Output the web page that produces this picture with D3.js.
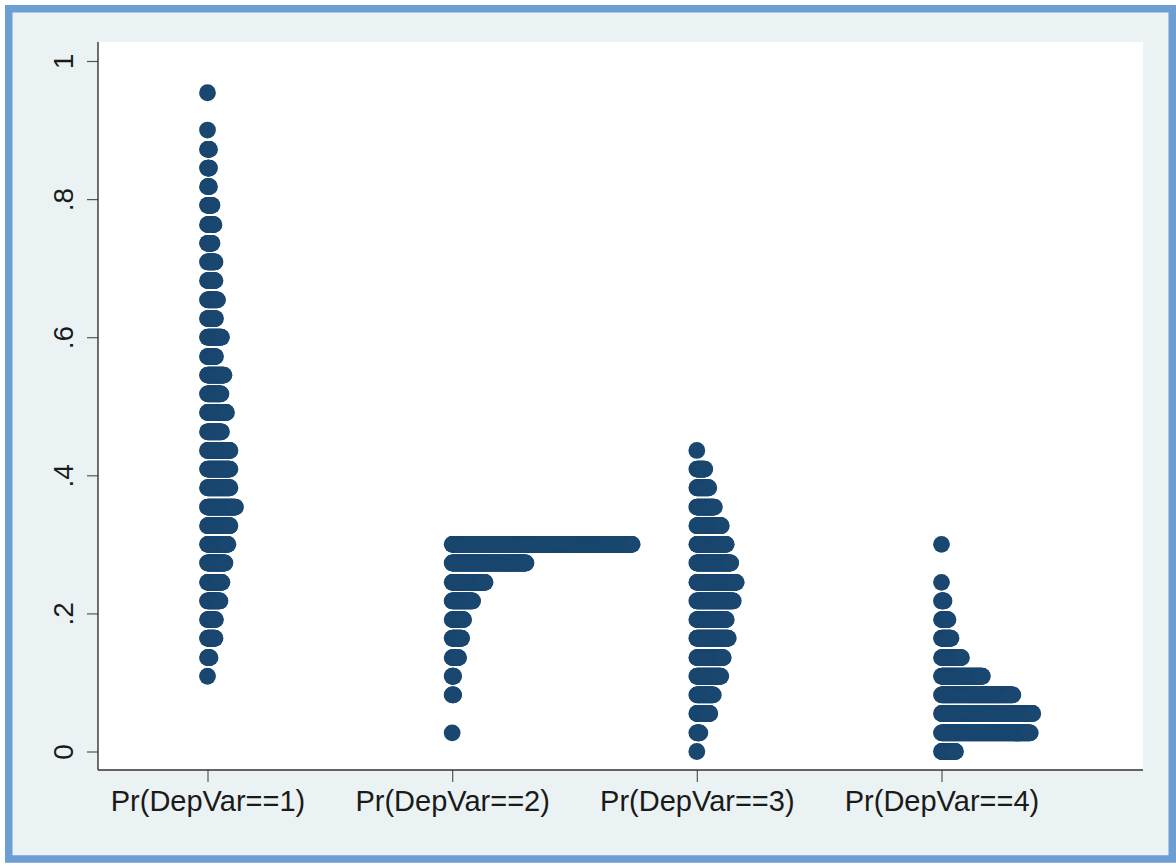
<!DOCTYPE html>
<html>
<head>
<meta charset="utf-8">
<script src="https://cdn.jsdelivr.net/npm/d3@7"></script>
<style>
  html, body { margin: 0; padding: 0; background: #ffffff; }
  svg { display: block; }
  text { font-family: "Liberation Sans", Arial, Helvetica, sans-serif; fill: #1a1a1a; }
</style>
</head>
<body>
<svg id="chart" width="1176" height="865"></svg>
<script>
// Categories on the x axis
const categories = ["Pr(DepVar==1)", "Pr(DepVar==2)", "Pr(DepVar==3)", "Pr(DepVar==4)"];

// Y axis ticks and their labels
const yTicks = [0, 0.2, 0.4, 0.6, 0.8, 1];
const yTickLabels = ["0", ".2", ".4", ".6", ".8", "1"];

// Dot plot rows: bin value and number of observations in that bin
const values1 = [0.954, 0.900, 0.872, 0.845, 0.818, 0.791, 0.763, 0.736, 0.709, 0.682, 0.654,
                 0.627, 0.600, 0.572, 0.545, 0.518, 0.491, 0.463, 0.436, 0.409, 0.382, 0.354,
                 0.327, 0.300, 0.273, 0.245, 0.218, 0.191, 0.164, 0.136, 0.109];
const counts1 = [1, 1, 5, 5, 5, 10, 14, 10, 16, 16, 21,
                 17, 29, 17, 34, 28, 39, 29, 46, 46, 46, 57,
                 46, 42, 36, 30, 26, 17, 16, 6, 1];

const values2 = [0.300, 0.273, 0.245, 0.218, 0.191, 0.164, 0.136, 0.109, 0.082, 0.027];
const counts2 = [362, 149, 67, 42, 24, 20, 14, 4, 4, 1];

const values3 = [0.436, 0.409, 0.382, 0.354, 0.327, 0.300, 0.273, 0.245, 0.218, 0.191,
                 0.164, 0.136, 0.109, 0.082, 0.055, 0.027, 0.000];
const counts3 = [1, 17, 25, 36, 50, 60, 69, 80, 74, 60,
                 64, 54, 49, 34, 27, 7, 1];

const values4 = [0.300, 0.245, 0.218, 0.191, 0.164, 0.136, 0.109, 0.082, 0.055, 0.027, 0.000];
const counts4 = [1, 1, 6, 14, 20, 41, 83, 144, 184, 179, 29];

const seriesValues = [values1, values2, values3, values4];
const seriesCounts = [counts1, counts2, counts3, counts4];

// Layout
const plot = { left: 98, right: 1143, top: 42, bottom: 770 };
const dotR = 8.4;
const dotColor = "#1a476f";

const svg = d3.select("#chart");

// Outer frame and graph region
svg.append("rect")
  .attr("x", 8.75).attr("y", 8.75)
  .attr("width", 1163.5).attr("height", 850.25)
  .attr("fill", "#eaf2f3")
  .attr("stroke", "#6c9dd3")
  .attr("stroke-width", 7.5);

// Plot region
svg.append("rect")
  .attr("x", plot.left).attr("y", plot.top)
  .attr("width", plot.right - plot.left).attr("height", plot.bottom - plot.top)
  .attr("fill", "#ffffff");

// Scales
const y = d3.scaleLinear().domain([0, 1]).range([751.5, 61]);
const x = d3.scalePoint().domain(categories).range([207.5, 941.5]);
const maxCount = d3.max(seriesCounts.flat());
const step = d3.scaleLinear().domain([0, maxCount - 1]).range([0, 180]);

// Dots: each row starts at the category position and stacks to the right
const dots = [];
categories.forEach((cat, ci) => {
  seriesValues[ci].forEach((v, ri) => {
    const n = seriesCounts[ci][ri];
    for (let i = 0; i < n; i++) dots.push({ cat, v, i });
  });
});

svg.append("g")
  .selectAll("circle")
  .data(dots)
  .join("circle")
  .attr("cx", d => x(d.cat) + step(d.i))
  .attr("cy", d => y(d.v))
  .attr("r", dotR)
  .attr("fill", dotColor);

// Y axis
const yAxis = d3.axisLeft(y)
  .tickValues(yTicks)
  .tickFormat((d, i) => yTickLabels[i])
  .tickSize(11)
  .tickPadding(0);

const gy = svg.append("g")
  .attr("transform", `translate(${plot.left},0)`)
  .call(yAxis);
gy.select(".domain").remove();
gy.selectAll(".tick line").attr("stroke", "#555").attr("stroke-width", 1.2);
gy.selectAll(".tick text")
  .attr("x", null).attr("dy", null)
  .attr("transform", "translate(-25,0) rotate(-90)")
  .attr("text-anchor", "middle")
  .attr("font-size", 28)
  .attr("fill", "#1a1a1a");

// X axis
const xAxis = d3.axisBottom(x)
  .tickSize(12)
  .tickPadding(0);

const gx = svg.append("g")
  .attr("transform", `translate(0,${plot.bottom})`)
  .call(xAxis);
gx.select(".domain").remove();
gx.selectAll(".tick line").attr("stroke", "#555").attr("stroke-width", 1.2);
gx.selectAll(".tick text")
  .attr("y", 41).attr("dy", null)
  .attr("font-size", 29)
  .attr("fill", "#1a1a1a");

// Axis lines
svg.append("line")
  .attr("x1", plot.left).attr("x2", plot.left)
  .attr("y1", plot.top).attr("y2", plot.bottom)
  .attr("stroke", "#333").attr("stroke-width", 1.4);
svg.append("line")
  .attr("x1", plot.left).attr("x2", plot.right)
  .attr("y1", plot.bottom).attr("y2", plot.bottom)
  .attr("stroke", "#333").attr("stroke-width", 1.4);
</script>
</body>
</html>
